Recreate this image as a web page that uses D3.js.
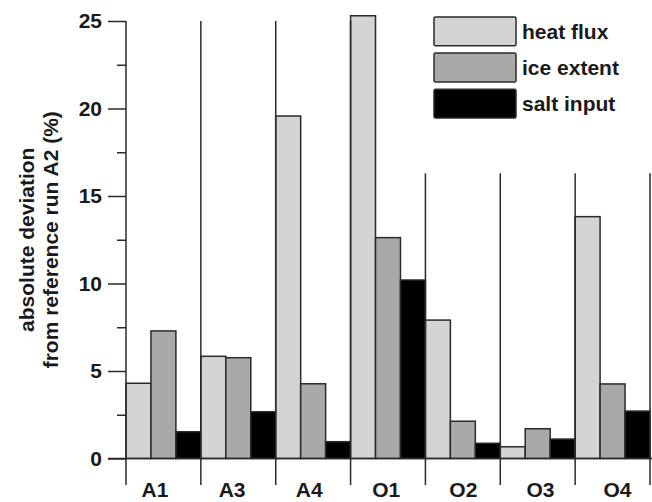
<!DOCTYPE html>
<html>
<head>
<meta charset="utf-8">
<script src="https://cdn.jsdelivr.net/npm/d3@7"></script>
<style>
  html, body { margin: 0; padding: 0; background: #fff; }
  svg { display: block; }
  text { font-family: "Liberation Sans", Arial, Helvetica, sans-serif; font-weight: bold; fill: #1a1a1a; }
</style>
</head>
<body>
<div id="chart"></div>
<script>
// Data
const runs = ["A1", "A3", "A4", "O1", "O2", "O3", "O4"];
const seriesNames = ["heat flux", "ice extent", "salt input"];
const heatFlux = [4.30, 5.84, 19.57, 25.3, 7.91, 0.67, 13.82];
const iceExtent = [7.29, 5.76, 4.27, 12.62, 2.13, 1.70, 4.26];
const saltInput = [1.53, 2.67, 0.96, 10.2, 0.87, 1.11, 2.71];
const majorTicks = [0, 5, 10, 15, 20, 25];
const minorTicks = [2.5, 7.5, 12.5, 17.5, 22.5];
// top of each group separator line (value units); O groups stop below the legend
const separatorTops = [25, 25, 25, 25, 16.3, 16.3, 16.3, 16.3];

const colors = ["#d4d4d4", "#a9a9a9", "#000000"];
const width = 652;
const height = 502;
const margin = { top: 21, right: 2, bottom: 43.5, left: 126 };
const plotWidth = width - margin.left - margin.right;
const plotHeight = height - margin.top - margin.bottom;

const svg = d3.select("#chart")
  .append("svg")
  .attr("width", width)
  .attr("height", height);

const chart = svg.append("g")
  .attr("transform", `translate(${margin.left},${margin.top})`);

const x = d3.scaleBand().domain(runs).range([0, plotWidth]).padding(0);
const xSub = d3.scaleBand().domain(seriesNames).range([0, x.bandwidth()]).padding(0);
const y = d3.scaleLinear().domain([0, 25]).range([plotHeight, 0]);
// the labels under the groups are spaced a little wider than the groups
const xLabel = d3.scalePoint().domain(runs).range([29, 491.5]);

const seriesValues = [heatFlux, iceExtent, saltInput];
const barData = runs.flatMap((run, i) =>
  seriesNames.map((name, s) => ({ run, name, s, value: seriesValues[s][i] }))
);

// bars
chart.selectAll(".bar")
  .data(barData)
  .enter()
  .append("rect")
  .attr("class", "bar")
  .attr("x", d => x(d.run) + xSub(d.name))
  .attr("width", xSub.bandwidth())
  .attr("y", d => y(d.value))
  .attr("height", d => y(0) - y(d.value))
  .attr("fill", d => colors[d.s])
  .attr("stroke", "#2a2a2a")
  .attr("stroke-width", 1.5);

// separators between groups, extending below the baseline
const tickDown = 26.5;
const sepX = runs.map(r => x(r)).concat([x(runs[runs.length - 1]) + x.bandwidth()]);
chart.selectAll(".sep")
  .data(sepX)
  .enter()
  .append("line")
  .attr("class", "sep")
  .attr("x1", d => d)
  .attr("x2", d => d)
  .attr("y1", (d, i) => y(separatorTops[i]))
  .attr("y2", plotHeight + tickDown)
  .attr("stroke", "#2a2a2a")
  .attr("stroke-width", 1.5);

// baseline
chart.append("line")
  .attr("x1", -18)
  .attr("x2", plotWidth + 2)
  .attr("y1", y(0))
  .attr("y2", y(0))
  .attr("stroke", "#2a2a2a")
  .attr("stroke-width", 1.5);

// y axis
const yAxis = chart.append("g")
  .call(d3.axisLeft(y).tickValues(majorTicks).tickSize(18).tickPadding(6).tickFormat(d3.format("d")));
yAxis.select(".domain").remove();
yAxis.selectAll("line").attr("stroke", "#2a2a2a").attr("stroke-width", 1.5);
yAxis.selectAll("text").style("font-size", "21px").attr("fill", "#1a1a1a");

const yMinor = chart.append("g")
  .call(d3.axisLeft(y).tickValues(minorTicks).tickSize(9).tickFormat(""));
yMinor.select(".domain").remove();
yMinor.selectAll("line").attr("stroke", "#2a2a2a").attr("stroke-width", 1.5);

// x labels (kept just inside the bottom edge)
chart.selectAll(".xlab")
  .data(runs)
  .enter()
  .append("text")
  .attr("class", "xlab")
  .attr("x", d => xLabel(d))
  .attr("y", plotHeight + 38.5)
  .attr("text-anchor", "middle")
  .style("font-size", "21px")
  .text(d => d);

// y title
const yTitle = chart.append("text")
  .attr("transform", "rotate(-90)")
  .attr("text-anchor", "middle")
  .style("font-size", "21px");
yTitle.append("tspan")
  .attr("x", -plotHeight / 2)
  .attr("y", -92)
  .text("absolute deviation");
yTitle.append("tspan")
  .attr("x", -plotHeight / 2)
  .attr("y", -68)
  .text("from reference run A2 (%)");

// legend
const legend = svg.append("g").attr("transform", "translate(434,17)");
const legendRow = d3.scaleBand().domain(seriesNames).range([0, 101]).paddingInner(0.2);
const items = legend.selectAll(".item")
  .data(seriesNames)
  .enter()
  .append("g")
  .attr("transform", d => `translate(0,${legendRow(d)})`);
items.append("rect")
  .attr("width", 82)
  .attr("height", legendRow.bandwidth())
  .attr("rx", 1.5)
  .attr("fill", (d, i) => colors[i])
  .attr("stroke", "#2a2a2a")
  .attr("stroke-width", 1.5);
items.append("text")
  .attr("x", 88)
  .attr("y", legendRow.bandwidth() / 2 + 7.5)
  .style("font-size", "21px")
  .text(d => d);
</script>
</body>
</html>
